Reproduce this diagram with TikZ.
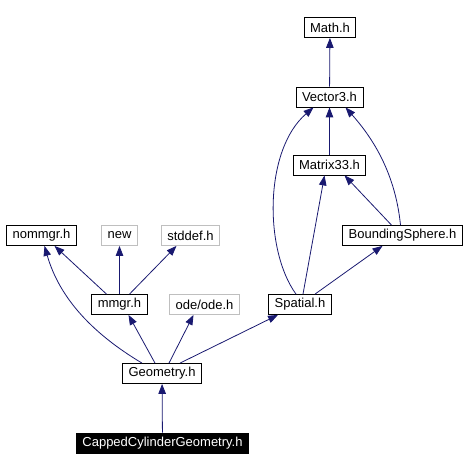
\documentclass[tikz,border=0pt]{standalone}
\usepackage{fontspec}
\setmainfont{Liberation Sans}
\usetikzlibrary{arrows.meta}
\definecolor{midnight}{RGB}{25,25,112}
\definecolor{boxgray}{RGB}{191,191,191}

\begin{document}
\begin{tikzpicture}[x=1pt,y=-1pt,
  file/.style={draw,rectangle,line width=0.8pt,font=\fontsize{13}{14}\selectfont,
    inner xsep=6pt,inner ysep=0pt,minimum height=20pt},
  extfile/.style={file,draw=boxgray},
  mainfile/.style={file,fill=black,text=white},
  dep/.style={draw=midnight,line width=0.8pt,-{Triangle[length=10pt,width=7.5pt]}}]
\useasboundingbox (0,0) rectangle (465,470);

  \node[file] (math) at (330,27.5) {Math.h};
  \node[file] (vec) at (329.5,97) {Vector3.h};
  \node[file] (mat) at (329.5,165) {Matrix33.h};
  \node[file] (bs) at (402.5,235.5) {BoundingSphere.h};
  \node[file] (nom) at (41.5,235.5) {nommgr.h};
  \node[extfile] (new) at (119.5,235.5) {new};
  \node[extfile] (std) at (190.5,235.5) {stddef.h};
  \node[file] (mmgr) at (119.5,304.5) {mmgr.h};
  \node[extfile] (ode) at (204.5,304.5) {ode/ode.h};
  \node[file] (spat) at (300,304.5) {Spatial.h};
  \node[file] (geo) at (162,373.5) {Geometry.h};
  \node[mainfile] (cap) at (162.5,443) {CappedCylinderGeometry.h};

  \draw[dep] (vec) -- (math);
  \draw[dep] (mat) -- (vec);
  \draw[dep] ([xshift=-4pt]spat.north) .. controls (264,250) and (264,150) .. ([xshift=-16pt]vec.south);
  \draw[dep] ([xshift=3pt]spat.north) -- ([xshift=-5pt]mat.south);
  \draw[dep] ([xshift=-2pt]bs.north) .. controls (395,170) and (370,135) .. ([xshift=16pt]vec.south);
  \draw[dep] ([xshift=-11pt]bs.north) -- ([xshift=15pt]mat.south);
  \draw[dep] ([xshift=15pt]spat.north) -- ([xshift=-20pt]bs.south);

  \draw[dep] ([xshift=-13pt]mmgr.north) -- ([xshift=13pt]nom.south);
  \draw[dep] (mmgr) -- (new);
  \draw[dep] ([xshift=10pt]mmgr.north) -- ([xshift=-14pt]std.south);

  \draw[dep] ([xshift=-20pt]geo.north) .. controls (95,335) and (60,300) .. ([xshift=3pt]nom.south);
  \draw[dep] ([xshift=-7pt]geo.north) -- ([xshift=9pt]mmgr.south);
  \draw[dep] ([xshift=7pt]geo.north) -- ([xshift=-11pt]ode.south);
  \draw[dep] ([xshift=18pt]geo.north) -- ([xshift=-22pt]spat.south);
  \draw[dep] (cap) -- (geo);

\end{tikzpicture}
\end{document}
